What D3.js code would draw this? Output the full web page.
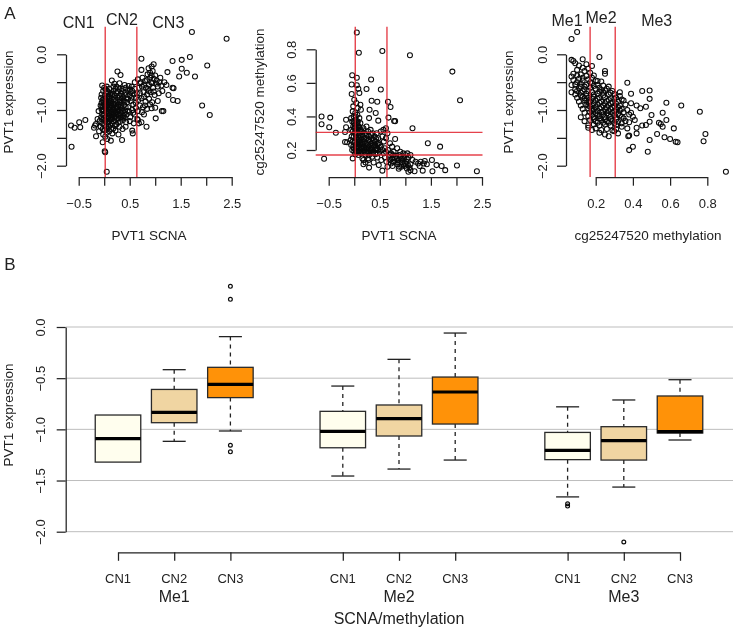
<!DOCTYPE html>
<html><head><meta charset="utf-8">
<script src="https://cdn.jsdelivr.net/npm/d3@7/dist/d3.min.js"></script>
<style>html,body{margin:0;padding:0;background:#fff}svg{display:block;filter:blur(.4px)}text{font-family:"Liberation Sans",Arial,sans-serif;fill:#222}</style>
</head><body><svg id="c" width="735" height="634"></svg>
<script>
// Panel A, left: PVT1 SCNA vs PVT1 expression
const scnaExpr = [[1.72,0.40],[2.40,0.28],[1.68,-0.05],[1.52,-0.10],[1.34,-0.12],[0.73,-0.08],[2.02,-0.20],[0.97,-0.18],[0.93,-0.22],[0.87,-0.25],[0.73,-0.28],[1.24,-0.32],[1.52,-0.26],[1.62,-0.33],[1.47,-0.40],[1.78,-0.40],[1.92,-0.92],[2.07,-1.09],[-0.64,-1.66],[0.05,-2.11],[-0.65,-1.28],[-0.58,-1.32],[-0.49,-1.22],[-0.37,-1.18],[-0.47,-1.31],[0.26,-0.31],[0.32,-0.37],[0.35,-1.54],[-0.16,-1.47],[0.01,-1.74],[0.02,-1.76],[-0.03,-1.58],[1.34,-0.60],[1.36,-0.61],[1.26,-0.73],[1.35,-0.82],[1.44,-0.84],[1.13,-1.02],[1.16,-1.02],[1.01,-1.15],[0.83,-1.30],[0.73,-1.22],[0.78,-1.08],
[-0.04,-0.56],[0.0,-0.6],[0.03,-0.63],[-0.02,-0.66],[0.05,-0.58],[-0.05,-0.72],[0.01,-0.75],[0.04,-0.7],[-0.06,-0.78],[-0.03,-0.82],[0.02,-0.8],[0.06,-0.77],[-0.05,-0.87],[-0.01,-0.88],[0.03,-0.85],[0.07,-0.9],[-0.07,-0.92],[-0.02,-0.94],[0.02,-0.97],[0.05,-0.93],[-0.05,-0.99],[-0.01,-1.02],[0.04,-1.03],[0.08,-0.99],[-0.04,-1.07],[0.0,-1.09],[0.03,-1.12],[0.07,-1.08],[-0.06,-1.13],[-0.02,-1.17],[0.02,-1.2],[0.06,-1.16],[-0.04,-1.24],[0.0,-1.27],[0.04,-1.3],[0.08,-1.25],[-0.03,-1.34],[0.01,-1.37],[0.05,-1.41],[-0.02,-1.44],[0.02,-1.48],[0.06,-1.52],[0.13,-1.55],[-0.11,-1.02],[-0.13,-1.16],[-0.09,-1.2],[-0.18,-1.28],[-0.2,-1.32],[-0.16,-1.25],[-0.1,-1.38],[-0.07,-1.3],
[0.1,-0.62],[0.15,-0.47],[0.2,-0.53],[0.13,-0.7],[0.18,-0.66],[0.24,-0.58],[0.3,-0.52],[0.36,-0.62],[0.42,-0.6],[0.48,-0.57],[0.54,-0.58],[0.6,-0.5],[0.55,-0.66],[0.27,-0.67],[0.33,-0.71],[0.4,-0.69],[0.46,-0.66],[0.1,-0.76],[0.15,-0.8],[0.21,-0.74],[0.26,-0.78],[0.31,-0.82],[0.37,-0.77],[0.43,-0.79],[0.5,-0.74],[0.58,-0.72],[0.62,-0.78],[0.11,-0.86],[0.17,-0.89],[0.22,-0.84],[0.28,-0.9],[0.34,-0.87],[0.39,-0.91],[0.45,-0.86],[0.52,-0.84],[0.57,-0.9],[0.12,-0.96],[0.18,-0.99],[0.24,-0.94],[0.29,-1.0],[0.35,-0.97],[0.41,-1.01],[0.47,-0.95],[0.55,-1.0],[0.62,-0.96],[0.1,-1.06],[0.16,-1.1],[0.22,-1.04],[0.27,-1.09],[0.33,-1.06],[0.38,-1.11],[0.44,-1.08],[0.51,-1.13],[0.6,-1.08],[0.13,-1.17],[0.19,-1.2],[0.25,-1.16],[0.31,-1.21],[0.37,-1.18],[0.43,-1.22],[0.5,-1.2],[0.58,-1.24],[0.65,-1.16],[0.12,-1.28],[0.18,-1.33],[0.24,-1.26],[0.3,-1.3],[0.36,-1.34],[0.42,-1.3],[0.55,-1.37],[0.56,-1.42],[0.1,-1.38],[0.16,-1.42],[0.22,-1.37],[0.28,-1.44],[0.14,-0.93],[0.2,-1.02],[0.08,-1.14],[0.23,-0.88],[0.15,-0.73],[0.09,-0.83],[0.32,-0.92],[0.26,-1.03],
[0.66,-0.45],[0.7,-0.52],[0.75,-0.42],[0.8,-0.48],[0.85,-0.36],[0.9,-0.42],[0.95,-0.3],[1.0,-0.38],[0.92,-0.5],[1.03,-0.47],[1.1,-0.42],[1.18,-0.5],[1.12,-0.56],[1.22,-0.55],[0.68,-0.6],[0.74,-0.58],[0.82,-0.6],[0.88,-0.55],[0.96,-0.6],[1.05,-0.58],[1.14,-0.66],[0.7,-0.7],[0.77,-0.68],[0.84,-0.72],[0.91,-0.68],[0.99,-0.73],[1.07,-0.7],[0.67,-0.82],[0.73,-0.79],[0.81,-0.85],[0.88,-0.8],[0.94,-0.86],[1.05,-0.84],[0.7,-0.92],[0.76,-0.95],[0.84,-0.98],[0.93,-0.97],[1.0,-0.96],[0.66,-1.02],[0.74,-1.04],[0.66,-1.18],[0.68,-1.24],
[0.07,-0.68],[0.12,-0.79],[0.17,-0.71],[0.19,-0.81],[0.24,-0.7],[0.29,-0.74],[0.34,-0.66],[0.38,-0.83],[0.08,-0.88],[0.13,-0.84],[0.16,-0.95],[0.2,-0.9],[0.25,-0.99],[0.3,-0.86],[0.36,-1.02],[0.4,-0.85],[0.07,-1.02],[0.11,-1.0],[0.14,-1.04],[0.18,-1.07],[0.23,-1.12],[0.28,-1.15],[0.32,-1.0],[0.36,-1.14],[0.4,-1.06],[0.46,-1.02],[0.09,-1.12],[0.12,-1.1],[0.15,-1.15],[0.2,-1.14],[0.27,-1.23],[0.33,-1.13],[0.07,-1.22],[0.1,-1.2],[0.15,-1.24],[0.21,-1.27],[0.4,-1.14],[0.09,-0.95],[-0.04,-0.93],[-0.03,-1.0],[0.01,-0.92],[0.0,-1.15],[-0.01,-0.8],[0.05,-1.21],[0.12,-0.9],[0.21,-0.96],[0.27,-0.95],[0.31,-0.77],[0.35,-0.8],[0.44,-0.72],[0.52,-0.68],[0.47,-0.8],[0.54,-0.78],[0.42,-0.95],[0.49,-1.03],[0.57,-1.05],[0.05,-1.35],[0.09,-1.3],[0.14,-1.34],[0.2,-1.12],[0.06,-0.85],[0.04,-0.95],[-0.02,-1.1],[0.17,-1.0],[0.24,-1.07],[0.3,-1.1],[0.11,-0.72],[0.22,-0.62],[0.06,-0.66],[0.18,-0.58],[0.3,-0.62],[0.4,-0.55],[0.5,-0.63],[0.6,-0.62],[0.62,-0.87],[0.64,-0.7],[0.72,-0.5],[0.78,-0.55],[0.84,-0.46],[0.9,-0.33],[0.93,-0.38],[0.97,-0.44],[0.86,-0.62],[0.94,-0.52],[1.02,-0.53],[1.08,-0.5],[0.78,-0.76],[0.87,-0.66],[0.97,-0.67],[0.8,-0.92],[0.9,-0.9]];

// Panel A, middle: PVT1 SCNA vs cg25247520 methylation
const scnaMeth = [[0.05,0.90],[0.09,0.78],[0.55,0.79],[1.09,0.765],[1.92,0.667],[2.07,0.496],[0.33,0.62],[-0.04,0.645],[0.05,0.63],[0.24,0.564],[0.52,0.56],[-0.05,0.59],[0.05,0.586],[0.08,0.565],[0.1,0.54],[-0.05,0.534],[0.34,0.494],[0.45,0.488],[0.66,0.488],[0.71,0.456],[0.30,0.44],[0.42,0.42],[0.29,0.39],[0.47,0.375],[0.67,0.393],[0.78,0.373],[0.8,0.372],[-0.64,0.40],[-0.47,0.393],[-0.64,0.353],[-0.49,0.335],[-0.36,0.303],[-0.59,0.148],[-0.16,0.38],[-0.16,0.335],[-0.18,0.307],[-0.18,0.248],[-0.14,0.246],[1.14,0.33],[1.44,0.24],[1.68,0.22],[0.8,0.265],[2.01,0.108],[2.40,0.073],[1.78,0.08],[1.71,0.105],[1.61,0.11],[1.52,0.14],[1.53,0.073],[1.34,0.077],[1.18,0.073],[1.06,0.07],[0.55,0.077],[0.29,0.095],[0.18,0.115],[-0.03,0.15],[0.16,0.15],
[0.0,0.5],[0.04,0.48],[-0.02,0.46],[0.12,0.47],[0.07,0.45],[0.13,0.44],[-0.03,0.43],[0.02,0.42],[0.06,0.41],[-0.01,0.4],[0.1,0.39],[-0.06,0.39],[0.03,0.38],[0.07,0.37],[-0.04,0.37],[0.0,0.36],[0.12,0.36],[0.05,0.35],[-0.02,0.34],[0.09,0.34],[0.02,0.33],[-0.06,0.32],[0.06,0.32],[0.13,0.32],[0.18,0.33],[0.24,0.34],[0.32,0.32],[-0.03,0.31],[0.01,0.3],[0.05,0.3],[0.1,0.3],[0.15,0.31],[0.21,0.3],[0.27,0.31],[0.36,0.3],[0.44,0.3],[0.52,0.31],[0.57,0.32],[0.62,0.33],[0.65,0.3],[-0.05,0.28],[-0.01,0.28],[0.04,0.27],[0.08,0.28],[0.12,0.27],[0.17,0.28],[0.23,0.27],[0.29,0.28],[0.34,0.27],[0.4,0.28],[0.47,0.27],[0.55,0.28],[0.62,0.27],[-0.07,0.26],[-0.03,0.25],[0.02,0.25],[0.06,0.24],[0.1,0.25],[0.15,0.24],[0.2,0.25],[0.26,0.24],[0.31,0.25],[0.37,0.24],[0.42,0.25],[0.48,0.24],[0.58,0.25],[0.7,0.24],[-0.06,0.23],[-0.02,0.22],[0.03,0.22],[0.08,0.22],[0.13,0.21],[0.18,0.22],[0.23,0.21],[0.28,0.22],[0.34,0.21],[0.39,0.22],[0.45,0.21],[0.52,0.22],[0.6,0.21],[0.74,0.22],[-0.04,0.2],[0.0,0.19],[0.05,0.19],[0.1,0.2],[0.15,0.19],[0.2,0.2],[0.26,0.19],[0.32,0.2],[0.37,0.19],[0.43,0.2],[0.5,0.19],[0.66,0.2],[0.84,0.21],[0.02,0.175],[0.08,0.17],[0.13,0.18],[0.22,0.17],[0.29,0.17],[0.41,0.175],[0.58,0.18],[0.72,0.18],[0.77,0.19],[0.9,0.19],[0.96,0.18],[1.04,0.18],[1.1,0.17],[0.18,0.14],[0.27,0.15],[0.28,0.14],[0.35,0.16],[0.45,0.155],[0.53,0.14],[0.6,0.155],[0.63,0.13],[0.68,0.16],[0.74,0.15],[0.78,0.13],[0.82,0.165],[0.86,0.14],[0.9,0.16],[0.94,0.125],[0.98,0.15],[1.02,0.13],[1.06,0.155],[1.1,0.115],[1.14,0.14],[1.2,0.13],[1.25,0.12],[1.3,0.13],[1.36,0.12],[1.38,0.135],[0.22,0.125],[0.38,0.125],[0.48,0.11],[0.65,0.1],[0.72,0.12],[0.75,0.105],[0.84,0.115],[0.88,0.1],[0.92,0.1],[0.98,0.105],[1.03,0.09],[1.08,0.095],[1.28,0.105],[1.42,0.115],[1.1,0.08],[0.87,0.088],
[0.03,0.29],[0.07,0.26],[0.11,0.29],[0.14,0.26],[0.19,0.265],[0.24,0.29],[0.28,0.26],[0.33,0.29],[0.38,0.26],[0.43,0.265],[0.0,0.245],[0.04,0.235],[0.09,0.235],[0.12,0.24],[0.17,0.235],[0.22,0.24],[0.27,0.23],[0.32,0.235],[0.36,0.225],[0.41,0.23],[0.46,0.235],[0.5,0.23],[-0.01,0.21],[0.05,0.21],[0.1,0.215],[0.15,0.21],[0.2,0.215],[0.25,0.205],[0.3,0.21],[0.35,0.2],[0.41,0.205],[0.47,0.2],[0.55,0.2],[0.62,0.19],[0.03,0.195],[0.08,0.19],[0.12,0.19],[0.18,0.195],[0.23,0.185],[0.29,0.19],[0.34,0.18],[0.46,0.18],[0.7,0.17],[0.76,0.17],[0.8,0.155],[0.84,0.15],[0.88,0.17],[0.92,0.145],[0.96,0.16],[1.0,0.17],[1.03,0.145],[0.7,0.14],[0.75,0.13],[0.85,0.125],[0.9,0.125],[0.96,0.115],[1.0,0.12],[1.05,0.11],[0.0,0.33],[0.04,0.32],[0.01,0.35],[-0.01,0.37],[0.06,0.36],[0.03,0.4],[0.08,0.33],[0.11,0.32],[0.16,0.29]];

// Panel A, right: cg25247520 methylation vs PVT1 expression
const methExpr = [[0.10,0.40],[0.07,0.275],[0.22,-0.05],[0.13,-0.09],[0.07,-0.10],[0.08,-0.12],[0.18,-0.21],[0.25,-0.30],[0.25,-0.35],[0.37,-0.51],[0.33,-0.68],[0.39,-0.71],[0.45,-0.66],[0.49,-0.65],[0.49,-0.80],[0.58,-0.87],[0.66,-0.92],[0.76,-1.03],[0.56,-1.05],[0.50,-1.09],[0.58,-1.18],[0.54,-1.23],[0.55,-1.25],[0.49,-1.21],[0.56,-1.30],[0.62,-1.33],[0.79,-1.43],[0.78,-1.56],[0.53,-1.43],[0.57,-1.49],[0.60,-1.52],[0.63,-1.57],[0.64,-1.58],[0.49,-1.54],[0.40,-1.66],[0.38,-1.72],[0.48,-1.75],[0.90,-2.11],[0.375,-1.47],[0.38,-1.46],[0.42,-1.42],[0.44,-0.97],[0.47,-0.94],[0.42,-0.92],[0.39,-0.88],[0.42,-1.32],[0.45,-1.28],[0.47,-1.27],[0.38,-1.22],[0.41,-1.18],[0.4,-1.12],[0.37,-1.0],[0.39,-1.05],[0.36,-0.9],[0.35,-1.15],[0.37,-1.33],[0.34,-1.3],[0.31,-1.34],
[0.09,-0.16],[0.11,-0.2],[0.13,-0.24],[0.15,-0.18],[0.1,-0.28],[0.14,-0.3],[0.16,-0.26],[0.08,-0.35],[0.07,-0.4],[0.1,-0.38],[0.12,-0.36],[0.15,-0.39],[0.17,-0.33],[0.19,-0.38],[0.08,-0.46],[0.11,-0.44],[0.13,-0.47],[0.16,-0.45],[0.18,-0.42],[0.2,-0.47],[0.23,-0.49],[0.07,-0.55],[0.09,-0.54],[0.12,-0.53],[0.15,-0.55],[0.18,-0.52],[0.21,-0.55],[0.24,-0.56],[0.27,-0.58],[0.07,-0.68],[0.09,-0.63],[0.11,-0.61],[0.14,-0.63],[0.17,-0.6],[0.2,-0.62],[0.23,-0.64],[0.26,-0.62],[0.29,-0.66],[0.09,-0.72],[0.12,-0.69],[0.15,-0.71],[0.18,-0.68],[0.21,-0.71],[0.24,-0.69],[0.27,-0.72],[0.3,-0.71],[0.33,-0.75],[0.1,-0.78],[0.13,-0.76],[0.16,-0.78],[0.19,-0.76],[0.22,-0.78],[0.25,-0.77],[0.28,-0.79],[0.31,-0.78],[0.34,-0.81],[0.11,-0.85],[0.14,-0.83],[0.17,-0.85],[0.2,-0.83],[0.23,-0.85],[0.26,-0.84],[0.29,-0.86],[0.32,-0.85],[0.35,-0.83],[0.12,-0.92],[0.15,-0.9],[0.18,-0.92],[0.21,-0.9],[0.24,-0.92],[0.27,-0.91],[0.3,-0.93],[0.33,-0.92],[0.13,-0.98],[0.16,-0.97],[0.19,-0.99],[0.22,-0.97],[0.25,-0.99],[0.28,-0.98],[0.31,-1.0],[0.34,-0.98],[0.14,-1.05],[0.17,-1.04],[0.2,-1.06],[0.23,-1.04],[0.26,-1.06],[0.29,-1.05],[0.32,-1.07],[0.35,-1.04],[0.38,-1.08],[0.12,-1.13],[0.16,-1.11],[0.19,-1.13],[0.22,-1.11],[0.25,-1.13],[0.28,-1.12],[0.31,-1.14],[0.34,-1.12],[0.14,-1.2],[0.17,-1.18],[0.2,-1.2],[0.23,-1.18],[0.26,-1.2],[0.29,-1.19],[0.32,-1.21],[0.36,-1.2],[0.16,-1.28],[0.19,-1.26],[0.22,-1.28],[0.25,-1.26],[0.28,-1.28],[0.31,-1.27],[0.16,-1.32],[0.18,-1.36],[0.2,-1.33],[0.23,-1.36],[0.26,-1.34],[0.29,-1.37],[0.22,-1.41],[0.25,-1.44],[0.27,-1.47],[0.3,-1.38],[0.32,-1.42],
[0.13,-0.42],[0.17,-0.5],[0.21,-0.48],[0.14,-0.58],[0.19,-0.57],[0.22,-0.6],[0.16,-0.66],[0.19,-0.72],[0.22,-0.67],[0.25,-0.65],[0.28,-0.69],[0.15,-0.75],[0.18,-0.79],[0.21,-0.8],[0.24,-0.74],[0.27,-0.82],[0.3,-0.8],[0.16,-0.86],[0.19,-0.88],[0.22,-0.87],[0.25,-0.88],[0.28,-0.88],[0.31,-0.89],[0.17,-0.94],[0.2,-0.95],[0.23,-0.95],[0.26,-0.95],[0.29,-0.96],[0.32,-0.95],[0.18,-1.02],[0.21,-1.02],[0.24,-1.03],[0.27,-1.02],[0.3,-1.02],[0.33,-1.01],[0.18,-1.09],[0.21,-1.09],[0.24,-1.08],[0.27,-1.09],[0.3,-1.09],[0.33,-1.1],[0.19,-1.16],[0.22,-1.15],[0.25,-1.17],[0.28,-1.16],[0.31,-1.17],[0.21,-1.23],[0.24,-1.23],[0.27,-1.23],[0.3,-1.24],[0.34,-1.24],[0.1,-0.5],[0.12,-0.58],[0.1,-0.66],[0.13,-0.66],[0.12,-0.74],[0.14,-0.79],[0.15,-0.83],[0.16,-0.92],[0.18,-0.98]];

const splitX = [0.02, 0.64];
const splitMeth = [0.17, 0.305];
const splitLabelsCN = ["CN1","CN2","CN3"];
const splitLabelsMe = ["Me1","Me2","Me3"];

// Panel B
const groups = ["Me1","Me2","Me3"];
const categories = ["CN1","CN2","CN3"];
const boxColors = ["#FFFEEE","#F0D5A2","#FF9208"];
//               whiskerHigh, q3, median, q1, whiskerLow
const me1Boxes = [[-0.86,-0.86,-1.09,-1.32,-1.32],[-0.417,-0.61,-0.834,-0.935,-1.117],[-0.094,-0.394,-0.56,-0.69,-1.016]];
const me2Boxes = [[-0.577,-0.824,-1.02,-1.18,-1.456],[-0.316,-0.762,-0.896,-1.065,-1.388],[-0.059,-0.489,-0.635,-0.948,-1.30]];
const me3Boxes = [[-0.78,-1.03,-1.205,-1.296,-1.66],[-0.713,-0.974,-1.11,-1.30,-1.564],[-0.515,-0.674,-1.023,-1.036,-1.104]];
const me1Outliers = [[],[],[0.397,0.27,-1.156,-1.22]];
const me2Outliers = [[],[],[]];
const me3Outliers = [[-1.727,-1.75],[-2.10],[]];

const svg = d3.select("#c");
const minus = s => s.replace("-", "\u2212");
const ink = "#222";

function styleAxis(g){
  g.selectAll("path,line").attr("stroke",ink).attr("stroke-width",1.25);
  g.selectAll("text").attr("fill",ink).style("font-family",'"Liberation Sans",Arial,sans-serif');
}
function label(x,y,t,size,rot){
  const e = svg.append("text").attr("text-anchor","middle").attr("dominant-baseline","central").attr("font-size",size).text(t);
  e.attr("transform",`translate(${x},${y})`+(rot?" rotate(-90)":""));
  return e;
}
function axisX(sc,vals,shown,fmt,y){
  const g = svg.append("g").attr("transform",`translate(0,${y})`)
    .call(d3.axisBottom(sc).tickValues(vals).tickSize(8.7).tickSizeOuter(0).tickFormat(v=>shown.includes(v)?minus(d3.format(fmt)(v)):""));
  styleAxis(g);
  g.selectAll("text").attr("font-size",13).attr("y",0).attr("dy",0).attr("dominant-baseline","central")
    .attr("transform","translate(0,26)");
}
function axisY(sc,vals,shown,fmt,x,size,off){
  const g = svg.append("g").attr("transform",`translate(${x},0)`)
    .call(d3.axisLeft(sc).tickValues(vals).tickSize(9).tickSizeOuter(0).tickFormat(v=>shown.includes(v)?minus(d3.format(fmt)(v)):""));
  styleAxis(g);
  g.selectAll("text").attr("font-size",size).attr("x",0).attr("dy",0).attr("text-anchor","middle").attr("dominant-baseline","central")
    .attr("transform",`translate(${-off},0) rotate(-90)`);
}
function points(data,x,y){
  svg.append("g").selectAll("circle").data(data).join("circle")
    .attr("cx",d=>x(d[0])).attr("cy",d=>y(d[1])).attr("r",2.5)
    .attr("fill","none").attr("stroke","#0a0a0a").attr("stroke-width",1.05);
}
function vline(x,v){svg.append("line").attr("x1",x(v)).attr("x2",x(v)).attr("y1",26.7).attr("y2",177).attr("stroke","#e0202c").attr("stroke-opacity",.85).attr("stroke-width",1.4);}

const ySteps = [0,-0.5,-1,-1.5,-2], yShown=[0,-1,-2];
const xSteps = [-0.5,0,0.5,1,1.5,2,2.5], xShown=[-0.5,0.5,1.5,2.5];
const yExprA = d3.scaleLinear().domain([0,-2]).range([54.3,165.7]);

// A left
const x1 = d3.scaleLinear().domain([-0.5,2.5]).range([78.7,231.7]);
axisX(x1,xSteps,xShown,".1f",177);
axisY(yExprA,ySteps,yShown,".1f",66,13,25);
points(scnaExpr,x1,yExprA);
splitX.forEach(v=>vline(x1,v));
label(149,235.7,"PVT1 SCNA",13.5);
label(8,102,"PVT1 expression",13.5,true);
label(78.7,22.7,splitLabelsCN[0],16);
label(122,19,splitLabelsCN[1],16);
label(168.3,22.7,splitLabelsCN[2],16);

// A middle
const x2 = d3.scaleLinear().domain([-0.5,2.5]).range([328.7,482]);
const y2 = d3.scaleLinear().domain([0.2,0.8]).range([150,49.3]);
axisX(x2,xSteps,xShown,".1f",177);
axisY(y2,[0.2,0.4,0.6,0.8],[0.2,0.4,0.6,0.8],".1f",315.7,13,24);
points(scnaMeth,x2,y2);
splitX.forEach(v=>vline(x2,v));
splitMeth.forEach(v=>svg.append("line").attr("x1",315.7).attr("x2",482.5).attr("y1",y2(v)).attr("y2",y2(v)).attr("stroke","#e0202c").attr("stroke-opacity",.85).attr("stroke-width",1.4));
label(399,235.7,"PVT1 SCNA",13.5);
label(259,102,"cg25247520 methylation",13.5,true);

// A right
const x3 = d3.scaleLinear().domain([0.2,0.8]).range([595.7,707.3]);
axisX(x3,[0.2,0.4,0.6,0.8],[0.2,0.4,0.6,0.8],".1f",177);
axisY(yExprA,ySteps,yShown,".1f",566,13,24);
points(methExpr,x3,yExprA);
splitMeth.forEach(v=>vline(x3,v));
label(648,235.7,"cg25247520 methylation",13.5);
label(508,102,"PVT1 expression",13.5,true);
label(567,20,splitLabelsMe[0],16);
label(601,17.5,splitLabelsMe[1],16);
label(656.7,20,splitLabelsMe[2],16);

// panel letters
label(10,13,"A",17);
label(10,264,"B",17);

// B
const xB = d3.scaleLinear().domain([1,11]).range([118,680]);
const yB = d3.scaleLinear().domain([0,-2]).range([327,531.7]);
const gridVals=[0,-0.5,-1,-1.5,-2];
svg.append("g").selectAll("line").data(gridVals).join("line")
  .attr("x1",66).attr("x2",733).attr("y1",d=>yB(d)).attr("y2",d=>yB(d)).attr("stroke","#bdbdbd").attr("stroke-width",1);
axisY(yB,gridVals,gridVals,".1f",65.7,13,25);

const positions=[[1,2,3],[5,6,7],[9,10,11]];
const allBoxes=[me1Boxes,me2Boxes,me3Boxes], allOut=[me1Outliers,me2Outliers,me3Outliers];
const boxHalf=0.405, capHalf=0.205;
groups.forEach((gn,gi)=>{
  allBoxes[gi].forEach((b,ci)=>{
    const p=positions[gi][ci], cx=xB(p), g=svg.append("g");
    const [hi,q3,med,q1,lo]=b;
    if(hi!==q3){
      g.append("line").attr("x1",cx).attr("x2",cx).attr("y1",yB(hi)).attr("y2",yB(q3)).attr("stroke",ink).attr("stroke-width",1.3).attr("stroke-dasharray","4 4");
      g.append("line").attr("x1",xB(p-capHalf)).attr("x2",xB(p+capHalf)).attr("y1",yB(hi)).attr("y2",yB(hi)).attr("stroke",ink).attr("stroke-width",1.3);
    }
    if(lo!==q1){
      g.append("line").attr("x1",cx).attr("x2",cx).attr("y1",yB(q1)).attr("y2",yB(lo)).attr("stroke",ink).attr("stroke-width",1.3).attr("stroke-dasharray","4 4");
      g.append("line").attr("x1",xB(p-capHalf)).attr("x2",xB(p+capHalf)).attr("y1",yB(lo)).attr("y2",yB(lo)).attr("stroke",ink).attr("stroke-width",1.3);
    }
    g.append("rect").attr("x",xB(p-boxHalf)).attr("width",xB(p+boxHalf)-xB(p-boxHalf)).attr("y",yB(q3)).attr("height",yB(q1)-yB(q3))
      .attr("fill",boxColors[ci]).attr("stroke","#2a2a2a").attr("stroke-width",1.3);
    g.append("line").attr("x1",xB(p-boxHalf)).attr("x2",xB(p+boxHalf)).attr("y1",yB(med)).attr("y2",yB(med)).attr("stroke","#000").attr("stroke-width",3.2);
    g.selectAll("circle").data(allOut[gi][ci]).join("circle").attr("cx",cx).attr("cy",d=>yB(d)).attr("r",1.9).attr("fill","none").attr("stroke","#0a0a0a").attr("stroke-width",1.2);
    label(cx,578,categories[ci],13);
  });
  label(xB(positions[gi][1]),596.7,gn,16);
});
const gx=svg.append("g").attr("transform","translate(0,552.3)").call(d3.axisBottom(xB).tickValues(positions.flat()).tickSize(8.5).tickSizeOuter(0).tickFormat(""));
styleAxis(gx);
label(399,618,"SCNA/methylation",16);
label(8,415,"PVT1 expression",13.5,true);
</script></body></html>
